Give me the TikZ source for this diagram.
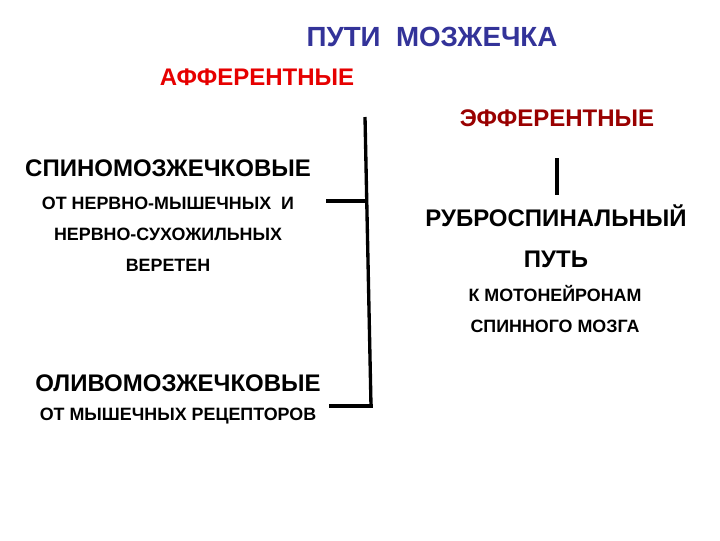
\documentclass[tikz,border=0pt]{standalone}
\usepackage{fontspec}
\setmainfont{Liberation Sans}
\definecolor{titleblue}{RGB}{51,51,153}
\definecolor{affred}{RGB}{230,0,0}
\definecolor{effred}{RGB}{153,0,0}
\tikzset{every picture/.style={line width=0.75pt}}
\tikzset{
  caps/.style={inner sep=0pt, text depth=0pt},
  head/.style={caps, text height=14.9pt, font=\bfseries\fontsize{20.8}{23}\selectfont},
  big/.style={caps, text height=12.9pt, font=\bfseries\fontsize{18}{20}\selectfont},
  small/.style={caps, text height=9.6pt, font=\bfseries\fontsize{13.4}{15}\selectfont},
  bar/.style={line width=2.5pt}
}
\begin{document}
\begin{tikzpicture}[x=0.75pt,y=0.75pt,yscale=-1,xscale=1]
	\useasboundingbox (0,0) rectangle (720,540);

	% Text Node
	\draw (432,37) node [head, text=titleblue] (title) {ПУТИ\ \ МОЗЖЕЧКА};
	% Text Node
	\draw (257,77) node [big, text=affred] (aff) {АФФЕРЕНТНЫЕ};
	% Text Node
	\draw (557,118) node [big, text=effred] (eff) {ЭФФЕРЕНТНЫЕ};

	% Text Node
	\draw (168,168) node [big] (spino) {СПИНОМОЗЖЕЧКОВЫЕ};
	% Text Node
	\draw (168,203) node [small] (spinoa) {ОТ НЕРВНО-МЫШЕЧНЫХ\ \ И};
	% Text Node
	\draw (168,234) node [small] (spinob) {НЕРВНО-СУХОЖИЛЬНЫХ};
	% Text Node
	\draw (168,265) node [small] (spinoc) {ВЕРЕТЕН};

	% Text Node
	\draw (178,383) node [big] (olivo) {ОЛИВОМОЗЖЕЧКОВЫЕ};
	% Text Node
	\draw (178,414) node [small] (olivoa) {ОТ МЫШЕЧНЫХ РЕЦЕПТОРОВ};

	% Text Node
	\draw (556,218) node [big] (rubro) {РУБРОСПИНАЛЬНЫЙ};
	% Text Node
	\draw (556,259) node [big] (put) {ПУТЬ};
	% Text Node
	\draw (555,295) node [small] (rubroa) {К МОТОНЕЙРОНАМ};
	% Text Node
	\draw (555,326) node [small] (rubrob) {СПИННОГО МОЗГА};

	% Coordinates
	\coordinate (btop) at (365,117);
	\coordinate (bmid) at (366.5,201);
	\coordinate (bbot) at (371,406);
	\coordinate (smid) at (326,201);
	\coordinate (obot) at (331,406);
	\coordinate (etop) at (557,158);
	\coordinate (ebot) at (557,195);

	%Straight Lines
	\draw [bar] (btop) -- (bbot);
	%Straight Lines
	\draw [bar] (smid) -- (bmid);
	%Straight Lines
	\draw [bar, line cap=rect] (obot) -- (bbot);
	%Straight Lines
	\draw [bar] (etop) -- (ebot);

\end{tikzpicture}
\end{document}
